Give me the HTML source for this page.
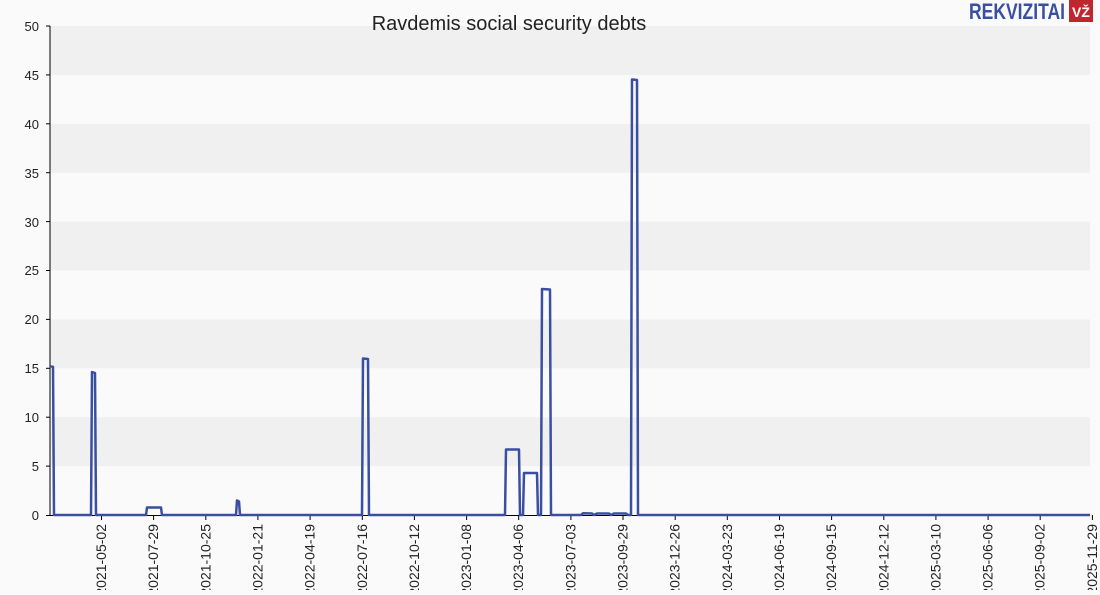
<!DOCTYPE html>
<html><head><meta charset="utf-8"><style>
body{margin:0;background:#fafafa;font-family:"Liberation Sans",sans-serif;}
</style></head><body>
<svg width="1100" height="590" viewBox="0 0 1100 590" xmlns="http://www.w3.org/2000/svg" font-family="Liberation Sans, sans-serif">
<rect width="1100" height="590" fill="#fafafa"/>
<g fill="#f0f0f0">
<rect x="50" y="26" width="1040" height="48.9"/>
<rect x="50" y="123.8" width="1040" height="48.9"/>
<rect x="50" y="221.6" width="1040" height="48.9"/>
<rect x="50" y="319.4" width="1040" height="48.9"/>
<rect x="50" y="417.2" width="1040" height="48.9"/>
</g>
<text x="509" y="30" font-size="20" text-anchor="middle" fill="#222">Ravdemis social security debts</text>
<text x="1017" y="19" font-size="22" font-weight="bold" fill="#3a4fa0" text-anchor="middle" textLength="96" lengthAdjust="spacingAndGlyphs">REKVIZITAI</text>
<rect x="1069" y="0" width="24" height="22" fill="#c0262d"/>
<text x="1081" y="17" font-size="14" font-weight="bold" fill="#fff" text-anchor="middle">VŽ</text>
<g stroke="#000" stroke-width="1">
<line x1="50" y1="26" x2="50" y2="515"/>
<line x1="46" y1="515.5" x2="1090" y2="515.5"/>
</g>
<g font-size="13" fill="#222" text-anchor="end">
<text x="39" y="520">0</text><text x="39" y="471">5</text><text x="39" y="422">10</text><text x="39" y="373">15</text><text x="39" y="324">20</text><text x="39" y="275">25</text><text x="39" y="227">30</text><text x="39" y="178">35</text><text x="39" y="129">40</text><text x="39" y="80">45</text><text x="39" y="31">50</text>
</g>
<g stroke="#000">
<line x1="46" y1="466.1" x2="50" y2="466.1"/><line x1="46" y1="417.2" x2="50" y2="417.2"/><line x1="46" y1="368.3" x2="50" y2="368.3"/><line x1="46" y1="319.4" x2="50" y2="319.4"/><line x1="46" y1="270.5" x2="50" y2="270.5"/><line x1="46" y1="221.6" x2="50" y2="221.6"/><line x1="46" y1="172.7" x2="50" y2="172.7"/><line x1="46" y1="123.8" x2="50" y2="123.8"/><line x1="46" y1="74.9" x2="50" y2="74.9"/><line x1="46" y1="26" x2="50" y2="26"/>
</g>
<g stroke="#000">
<line x1="101.5" y1="515" x2="101.5" y2="520"/><line x1="153.6" y1="515" x2="153.6" y2="520"/><line x1="205.8" y1="515" x2="205.8" y2="520"/><line x1="257.9" y1="515" x2="257.9" y2="520"/><line x1="310.1" y1="515" x2="310.1" y2="520"/><line x1="362.3" y1="515" x2="362.3" y2="520"/><line x1="414.4" y1="515" x2="414.4" y2="520"/><line x1="466.6" y1="515" x2="466.6" y2="520"/><line x1="518.7" y1="515" x2="518.7" y2="520"/><line x1="570.9" y1="515" x2="570.9" y2="520"/><line x1="623" y1="515" x2="623" y2="520"/><line x1="675.2" y1="515" x2="675.2" y2="520"/><line x1="727.3" y1="515" x2="727.3" y2="520"/><line x1="779.5" y1="515" x2="779.5" y2="520"/><line x1="831.6" y1="515" x2="831.6" y2="520"/><line x1="883.8" y1="515" x2="883.8" y2="520"/><line x1="935.9" y1="515" x2="935.9" y2="520"/><line x1="988.1" y1="515" x2="988.1" y2="520"/><line x1="1040.2" y1="515" x2="1040.2" y2="520"/><line x1="1092.4" y1="515" x2="1092.4" y2="520"/>
</g>
<g font-size="14" fill="#222" text-anchor="end">
<text transform="translate(106,524) rotate(-90)">2021-05-02</text>
<text transform="translate(158.1,524) rotate(-90)">2021-07-29</text>
<text transform="translate(210.3,524) rotate(-90)">2021-10-25</text>
<text transform="translate(262.4,524) rotate(-90)">2022-01-21</text>
<text transform="translate(314.6,524) rotate(-90)">2022-04-19</text>
<text transform="translate(366.8,524) rotate(-90)">2022-07-16</text>
<text transform="translate(418.9,524) rotate(-90)">2022-10-12</text>
<text transform="translate(471.1,524) rotate(-90)">2023-01-08</text>
<text transform="translate(523.2,524) rotate(-90)">2023-04-06</text>
<text transform="translate(575.4,524) rotate(-90)">2023-07-03</text>
<text transform="translate(627.5,524) rotate(-90)">2023-09-29</text>
<text transform="translate(679.7,524) rotate(-90)">2023-12-26</text>
<text transform="translate(731.8,524) rotate(-90)">2024-03-23</text>
<text transform="translate(784,524) rotate(-90)">2024-06-19</text>
<text transform="translate(836.1,524) rotate(-90)">2024-09-15</text>
<text transform="translate(888.3,524) rotate(-90)">2024-12-12</text>
<text transform="translate(940.4,524) rotate(-90)">2025-03-10</text>
<text transform="translate(992.6,524) rotate(-90)">2025-06-06</text>
<text transform="translate(1044.7,524) rotate(-90)">2025-09-02</text>
<text transform="translate(1096.9,524) rotate(-90)">2025-11-29</text>
</g>
<polyline fill="none" stroke="#3a4fa0" stroke-width="2.5" stroke-linejoin="round" points="50,366.3 53,366.8 54,515 91,515 92,372 95,373 96,515 146,515 147,507.5 161,507.5 162,515 236,515 237,500.5 239,501.5 240,515 362,515 363,358.5 368,359 369,515 505,515 506,449.5 519,449.5 520,515 523,515 524,473 537,473 538,515 541,515 542,289 550,289.5 551,515 581,515 583,513.3 592,513.5 594,515 597,513.5 609,513.5 611,515 614,513.5 626,513.5 628,515 631,515 632,79.5 637,80 638,515 1090,515"/>
</svg>
</body></html>
